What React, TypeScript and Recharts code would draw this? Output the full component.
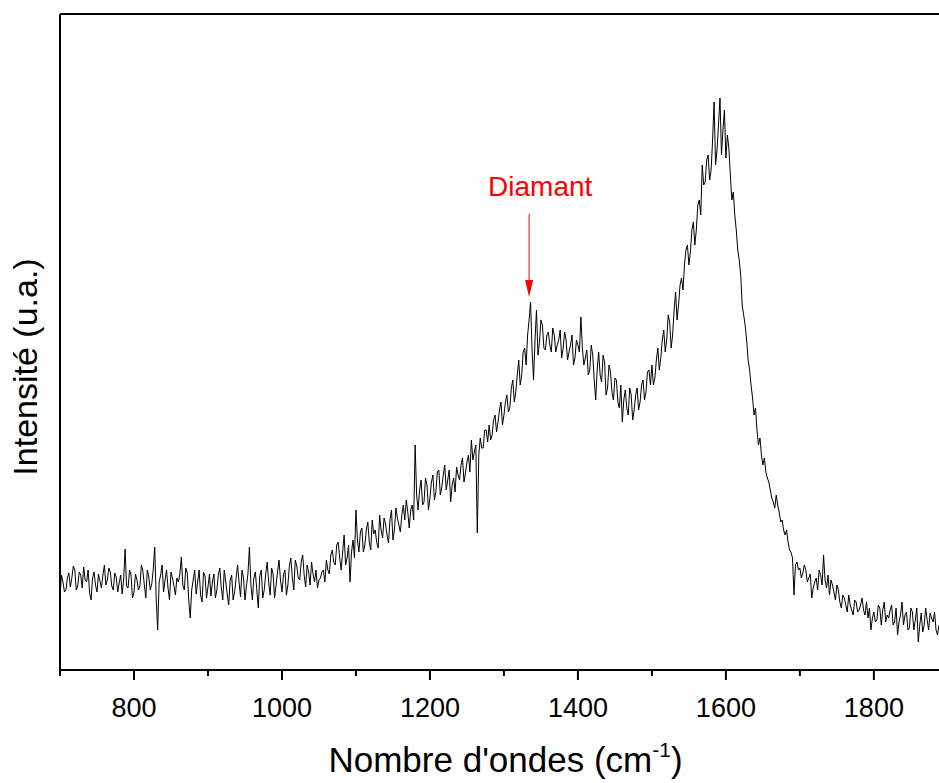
import React from 'react';
import { LineChart, Line, XAxis, YAxis, ReferenceLine, ReferenceDot } from 'recharts';

// Raman shift (cm-1), sampled points
const wavenumbers = [
  700, 704, 708, 712, 716, 720, 724, 728, 732, 736,
  740, 744, 748, 752, 756, 760, 764, 768, 772, 776,
  780, 784, 788, 792, 796, 800, 804, 808, 812, 816,
  820, 824, 828, 832, 836, 840, 844, 848, 852, 856,
  860, 864, 868, 872, 876, 880, 884, 888, 892, 896,
  900, 904, 908, 912, 916, 920, 924, 928, 932, 936,
  940, 944, 948, 952, 956, 960, 964, 968, 972, 976,
  980, 984, 988, 992, 996, 1000, 1004, 1008, 1012, 1016,
  1020, 1024, 1028, 1032, 1036, 1040, 1044, 1048, 1052, 1056,
  1060, 1064, 1068, 1072, 1076, 1080, 1084, 1088, 1092, 1096,
  1100, 1104, 1108, 1112, 1116, 1120, 1124, 1128, 1132, 1136,
  1140, 1144, 1148, 1152, 1156, 1160, 1164, 1168, 1172, 1176,
  1180, 1184, 1188, 1192, 1196, 1200, 1204, 1208, 1212, 1216,
  1220, 1224, 1228, 1232, 1236, 1240, 1244, 1248, 1252, 1256,
  1260, 1264, 1268, 1272, 1276, 1280, 1284, 1288, 1292, 1296,
  1300, 1304, 1308, 1312, 1316, 1320, 1324, 1328, 1332, 1336,
  1340, 1344, 1348, 1352, 1356, 1360, 1364, 1368, 1372, 1376,
  1380, 1384, 1388, 1392, 1396, 1400, 1404, 1408, 1412, 1416,
  1420, 1424, 1428, 1432, 1436, 1440, 1444, 1448, 1452, 1456,
  1460, 1464, 1468, 1472, 1476, 1480, 1484, 1488, 1492, 1496,
  1500, 1504, 1508, 1512, 1516, 1520, 1524, 1528, 1532, 1536,
  1540, 1544, 1548, 1552, 1556, 1560, 1564, 1568, 1572, 1576,
  1580, 1584, 1588, 1592, 1596, 1600, 1604, 1608, 1612, 1616,
  1620, 1624, 1628, 1632, 1636, 1640, 1644, 1648, 1652, 1656,
  1660, 1664, 1668, 1672, 1676, 1680, 1684, 1688, 1692, 1696,
  1700, 1704, 1708, 1712, 1716, 1720, 1724, 1728, 1732, 1736,
  1740, 1744, 1748, 1752, 1756, 1760, 1764, 1768, 1772, 1776,
  1780, 1784, 1788, 1792, 1796, 1800, 1804, 1808, 1812, 1816,
  1820, 1824, 1828, 1832, 1836, 1840, 1844, 1848, 1852, 1856,
  1860, 1864, 1868, 1872, 1876, 1880, 1884, 1888,
];

// Intensity (arbitrary units) at the points above
const intensities = [
  73, 88, 80, 97, 92, 100, 84, 95, 103, 88,
  77, 92, 85, 96, 82, 105, 90, 98, 80, 93,
  87, 76, 121, 82, 95, 78, 90, 84, 99, 72,
  93, 86, 123, 40, 95, 78, 100, 70, 92, 75,
  88, 113, 80, 97, 52, 90, 76, 100, 68, 94,
  83, 74, 96, 80, 102, 70, 88, 65, 95, 78,
  105, 73, 92, 84, 123, 70, 98, 62, 100, 80,
  108, 75, 96, 85, 110, 78, 100, 85, 112, 80,
  104, 90, 115, 83, 98, 108, 88, 82, 92, 100,
  110, 96, 120, 105, 128, 100, 135, 112, 88, 130,
  160, 118, 142, 125, 148, 120, 136, 128, 155, 132,
  146, 127, 160, 140, 152, 138, 165, 170, 142, 165,
  225, 160, 190, 168, 185, 172, 195, 178, 200, 183,
  205, 190, 168, 192, 203, 190, 212, 197, 215, 230,
  218, 137, 232, 222, 240, 245, 235, 255, 248, 268,
  255, 275, 262, 290, 278, 310, 295, 322, 335, 368,
  290, 360, 328, 345, 320, 338, 318, 335, 325, 340,
  322, 330, 318, 335, 312, 325, 353, 305, 320, 300,
  315, 270, 318, 288, 308, 282, 298, 270, 290, 262,
  248, 280, 255, 275, 260, 282, 268, 290, 278, 300,
  305, 292, 322, 312, 340, 330, 348, 335, 378, 365,
  392, 405, 425, 418, 448, 440, 470, 505, 488, 515,
  500, 568, 520, 572, 540, 512, 522, 470, 455, 420,
  395, 355, 330, 300, 272, 262, 225, 215, 212, 192,
  180, 168, 175, 158, 150, 135, 128, 118, 75, 108,
  102, 97, 100, 92, 72, 88, 80, 95, 115, 82,
  75, 85, 70, 80, 62, 72, 58, 65, 55, 68,
  60, 72, 55, 52, 40, 58, 50, 62, 60, 48,
  52, 65, 48, 35, 55, 45, 58, 42, 58, 50,
  28, 57, 45, 50, 57, 48, 40, 45,
];

// Intermediate sampled points (cm-1)
const midWavenumbers = [
  702, 706, 710, 714, 718, 722, 726, 730, 734, 738,
  742, 746, 750, 754, 758, 762, 766, 770, 774, 778,
  782, 786, 790, 794, 798, 802, 806, 810, 814, 818,
  822, 826, 830, 834, 838, 842, 846, 850, 854, 858,
  862, 866, 870, 874, 878, 882, 886, 890, 894, 898,
  902, 906, 910, 914, 918, 922, 926, 930, 934, 938,
  942, 946, 950, 954, 958, 962, 966, 970, 974, 978,
  982, 986, 990, 994, 998, 1002, 1006, 1010, 1014, 1018,
  1022, 1026, 1030, 1034, 1038, 1042, 1046, 1050, 1054, 1058,
  1062, 1066, 1070, 1074, 1078, 1082, 1086, 1090, 1094, 1098,
  1102, 1106, 1110, 1114, 1118, 1122, 1126, 1130, 1134, 1138,
  1142, 1146, 1150, 1154, 1158, 1162, 1166, 1170, 1174, 1178,
  1182, 1186, 1190, 1194, 1198, 1202, 1206, 1210, 1214, 1218,
  1222, 1226, 1230, 1234, 1238, 1242, 1246, 1250, 1254, 1258,
  1262, 1266, 1270, 1274, 1278, 1282, 1286, 1290, 1294, 1298,
  1302, 1306, 1310, 1314, 1318, 1322, 1326, 1330, 1334, 1338,
  1342, 1346, 1350, 1354, 1358, 1362, 1366, 1370, 1374, 1378,
  1382, 1386, 1390, 1394, 1398, 1402, 1406, 1410, 1414, 1418,
  1422, 1426, 1430, 1434, 1438, 1442, 1446, 1450, 1454, 1458,
  1462, 1466, 1470, 1474, 1478, 1482, 1486, 1490, 1494, 1498,
  1502, 1506, 1510, 1514, 1518, 1522, 1526, 1530, 1534, 1538,
  1542, 1546, 1550, 1554, 1558, 1562, 1566, 1570, 1574, 1578,
  1582, 1586, 1590, 1594, 1598, 1602, 1606, 1610, 1614, 1618,
  1622, 1626, 1630, 1634, 1638, 1642, 1646, 1650, 1654, 1658,
  1662, 1666, 1670, 1674, 1678, 1682, 1686, 1690, 1694, 1698,
  1702, 1706, 1710, 1714, 1718, 1722, 1726, 1730, 1734, 1738,
  1742, 1746, 1750, 1754, 1758, 1762, 1766, 1770, 1774, 1778,
  1782, 1786, 1790, 1794, 1798, 1802, 1806, 1810, 1814, 1818,
  1822, 1826, 1830, 1834, 1838, 1842, 1846, 1850, 1854, 1858,
  1862, 1866, 1870, 1874, 1878, 1882, 1886,
];

// Intensity (arbitrary units) at the intermediate points
const midIntensities = [
  95, 78, 92, 83, 104, 80, 98, 82, 90, 100,
  70, 98, 78, 89, 95, 85, 102, 84, 97, 78,
  95, 90, 84, 100, 72, 96, 80, 105, 85, 100,
  80, 100, 72, 88, 105, 90, 82, 98, 84, 92,
  96, 85, 102, 70, 80, 100, 88, 75, 98, 72,
  96, 88, 72, 95, 82, 100, 76, 90, 70, 92,
  88, 100, 70, 96, 85, 92, 80, 94, 72, 96,
  88, 102, 72, 98, 90, 95, 75, 104, 92, 110,
  92, 108, 95, 105, 85, 96, 100, 90, 98, 88,
  100, 115, 108, 125, 112, 118, 105, 125, 118, 112,
  130, 138, 118, 140, 128, 150, 140, 122, 140, 152,
  135, 150, 130, 162, 145, 155, 150, 158, 160, 150,
  175, 180, 165, 192, 160, 188, 170, 198, 175, 195,
  180, 200, 185, 178, 195, 205, 188, 208, 198, 210,
  225, 215, 222, 240, 228, 230, 250, 238, 260, 245,
  268, 258, 282, 268, 295, 285, 318, 305, 350, 320,
  330, 315, 350, 322, 335, 325, 342, 318, 330, 312,
  338, 310, 325, 305, 330, 318, 322, 312, 295, 325,
  290, 300, 295, 315, 275, 305, 278, 292, 268, 285,
  270, 262, 282, 250, 275, 260, 285, 270, 298, 285,
  285, 310, 300, 330, 318, 355, 322, 360, 350, 385,
  380, 420, 405, 440, 425, 465, 455, 485, 510, 490,
  530, 505, 545, 515, 560, 535, 495, 478, 440, 410,
  365, 345, 310, 285, 255, 240, 232, 205, 198, 188,
  172, 162, 165, 148, 140, 140, 120, 112, 105, 100,
  92, 105, 88, 96, 82, 92, 100, 85, 90, 95,
  90, 78, 85, 68, 75, 65, 75, 60, 70, 58,
  65, 60, 68, 62, 52, 48, 65, 45, 68, 55,
  60, 45, 62, 48, 68, 55, 40, 62, 40, 62,
  45, 38, 62, 40, 52, 58, 35,
];

const xTicks = [700, 800, 900, 1000, 1100, 1200, 1300, 1400, 1500, 1600, 1700, 1800];
const majorTicks = [800, 1000, 1200, 1400, 1600, 1800];
const xDomain = [700, 1888];
const yDomain = [0, 656];

// Annotation: diamond peak
const diamondLabel = 'Diamant';
const diamondX = 1334;
const arrowTopY = 456;
const arrowTipY = 373;
const labelX = 1349;
const labelY = 474;

const data = [
  ...wavenumbers.map((w, i) => ({ w, intensity: intensities[i] })),
  ...midWavenumbers.map((w, i) => ({ w, intensity: midIntensities[i] })),
].sort((a, b) => a.w - b.w);

const FONT = '"Liberation Sans", Arial, Helvetica, sans-serif';

const XTick = (props: any) => {
  const { x, y, payload } = props;
  const major = majorTicks.includes(payload.value);
  return (
    <g>
      <line x1={x} x2={x} y1={y} y2={y + (major ? 10 : 6)} stroke="#000" strokeWidth={2} />
      {major && (
        <text x={x} y={y + 47} textAnchor="middle" fontSize={27} fontFamily={FONT} fill="#000">
          {payload.value}
        </text>
      )}
    </g>
  );
};

const XTitle = (props: any) => {
  const { viewBox } = props;
  const cx = viewBox.x + viewBox.width / 2 + 6;
  const by = viewBox.y + 102;
  return (
    <text x={cx} y={by} textAnchor="middle" fontSize={35} fontFamily={FONT} fill="#000">
      {"Nombre d'ondes (cm"}
      <tspan dy={-15} fontSize={21}>-1</tspan>
      <tspan dy={15}>)</tspan>
    </text>
  );
};

const YTitle = () => (
  <text
    x={37}
    y={367}
    transform="rotate(-90, 37, 367)"
    textAnchor="middle"
    fontSize={34}
    fontFamily={FONT}
    fill="#000"
  >
    Intensité (u.a.)
  </text>
);

const ArrowHead = (props: any) => {
  const { cx, cy } = props;
  return <polygon points={`${cx},${cy} ${cx - 4},${cy - 17} ${cx + 4},${cy - 17}`} fill="#ff0000" />;
};

const DiamondText = (props: any) => {
  const { cx, cy } = props;
  return (
    <text x={cx} y={cy} textAnchor="middle" fontSize={28} fontFamily={FONT} fill="#ff0000">
      {diamondLabel}
    </text>
  );
};

export default function App() {
  return (
    <div style={{ position: 'absolute', left: 0, top: 0, width: 939, height: 783, background: '#fff' }}>
      <LineChart width={939} height={783} data={data} margin={{ top: 14, right: 0, bottom: 0, left: 0 }}>
        <XAxis
          xAxisId="bottom"
          dataKey="w"
          type="number"
          domain={xDomain}
          allowDataOverflow
          ticks={xTicks}
          interval={0}
          height={113}
          tickSize={0}
          tickMargin={0}
          tickLine={false}
          tick={<XTick />}
          axisLine={{ stroke: '#000', strokeWidth: 2 }}
          label={{ content: <XTitle /> } as any}
        />
        <YAxis
          type="number"
          domain={yDomain}
          allowDataOverflow
          width={60}
          tick={false}
          tickLine={false}
          axisLine={{ stroke: '#000', strokeWidth: 2 }}
          label={{ content: <YTitle /> } as any}
        />
        <ReferenceLine xAxisId="bottom" y={yDomain[1]} stroke="#000" strokeWidth={2} />
        <Line
          xAxisId="bottom"
          type="linear"
          dataKey="intensity"
          stroke="#000"
          strokeWidth={1}
          dot={false}
          isAnimationActive={false}
        />
        <ReferenceLine
          xAxisId="bottom"
          segment={[
            { x: diamondX, y: arrowTopY },
            { x: diamondX, y: arrowTipY + 14 },
          ]}
          stroke="#ff0000"
          strokeWidth={1}
        />
        <ReferenceDot xAxisId="bottom" x={diamondX} y={arrowTipY} r={0} shape={<ArrowHead />} />
        <ReferenceDot xAxisId="bottom" x={labelX} y={labelY} r={0} shape={<DiamondText />} />
      </LineChart>
    </div>
  );
}
